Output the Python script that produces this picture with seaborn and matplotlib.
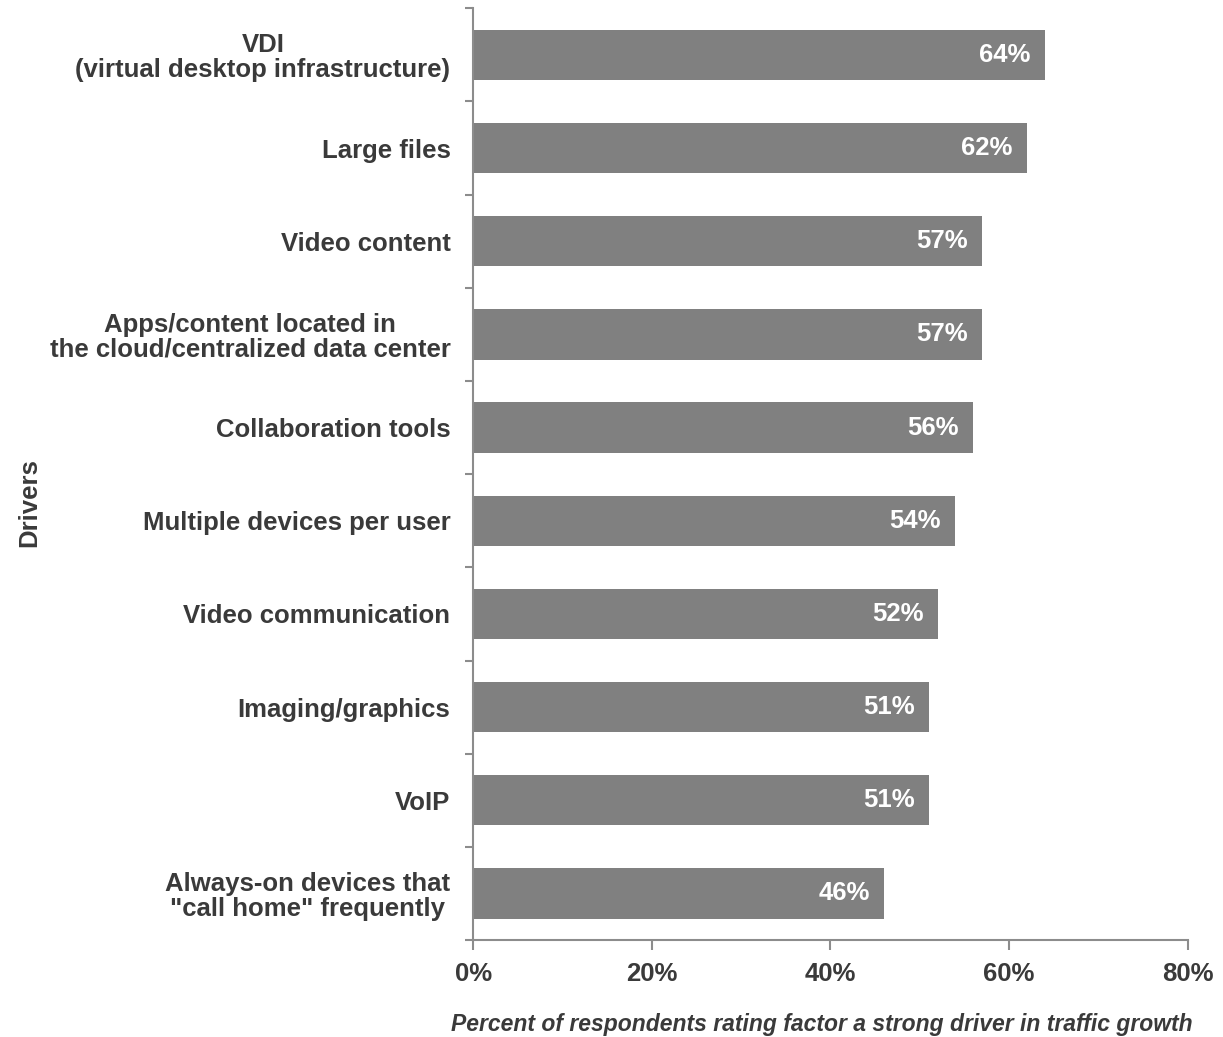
import matplotlib
matplotlib.use("Agg")
import matplotlib.pyplot as plt
import matplotlib.transforms as mtransforms
import seaborn as sns
import pandas as pd
from matplotlib.ticker import FixedLocator

categories = [
    "VDI\n(virtual desktop infrastructure)",
    "Large files",
    "Video content",
    "Apps/content located in\nthe cloud/centralized data center",
    "Collaboration tools",
    "Multiple devices per user",
    "Video communication",
    "Imaging/graphics",
    "VoIP",
    "Always-on devices that\n\"call home\" frequently",
]
values = [64, 62, 57, 57, 56, 54, 52, 51, 51, 46]
xticks = [0, 20, 40, 60, 80]
xtick_labels = ["0%", "20%", "40%", "60%", "80%"]

sns.set_style("white")
plt.rcParams["font.family"] = ["Liberation Sans", "DejaVu Sans"]

df = pd.DataFrame({"Driver": categories, "Value": values})

fig = plt.figure(figsize=(12.23, 10.37), dpi=100)
ax = fig.add_axes([0.387, 0.0935, 0.584, 0.8985])

sns.barplot(data=df, x="Value", y="Driver", orient="h", color="#808080",
            saturation=1, width=0.54, ax=ax, edgecolor="none")

txt = "#3a3a3a"
axis_col = "#8c8c8c"
fs = 18.5
ax.set_xlim(0, 80)
ax.set_ylim(len(categories) - 0.5, -0.5)
ax.set_xticks(xticks)
ax.set_xticklabels(xtick_labels, fontsize=fs, fontweight="bold", color=txt)
ax.set_yticks(range(len(categories)))
ax.set_yticklabels(categories, fontsize=fs, fontweight="bold", color=txt,
                   linespacing=1.05)
up = mtransforms.ScaledTranslation(0, 5 / 100, fig.dpi_scale_trans)
for lab in ax.get_yticklabels():
    lab.set_multialignment("center")
    if "\n" in lab.get_text():
        lab.set_transform(lab.get_transform() + up)
ax.yaxis.set_minor_locator(FixedLocator([i - 0.5 for i in range(len(categories) + 1)]))
ax.tick_params(axis="y", which="major", length=0, pad=16.5)
ax.tick_params(axis="y", which="minor", length=6, width=1.5, color=axis_col,
               left=True, direction="out")
ax.tick_params(axis="x", which="major", length=7, width=1.5, color=axis_col,
               direction="out", bottom=True, pad=9)

for s in ["top", "right"]:
    ax.spines[s].set_visible(False)
for s in ["left", "bottom"]:
    ax.spines[s].set_color(axis_col)
    ax.spines[s].set_linewidth(1.5)

for i, v in enumerate(values):
    ax.text(v - 1.6, i, f"{v}%", ha="right", va="center", color="white",
            fontsize=fs, fontweight="bold")

ax.set_ylabel("Drivers", fontsize=fs, fontweight="bold", color=txt)
ax.yaxis.set_label_coords(-0.605, 0.47)
ax.set_xlabel("Percent of respondents rating factor a strong driver in traffic growth",
              fontsize=16.5, fontweight="bold", fontstyle="italic", color=txt,
              loc="right")
ax.xaxis.set_label_coords(1.007, -0.078)

fig.savefig("out.png", dpi=100)
